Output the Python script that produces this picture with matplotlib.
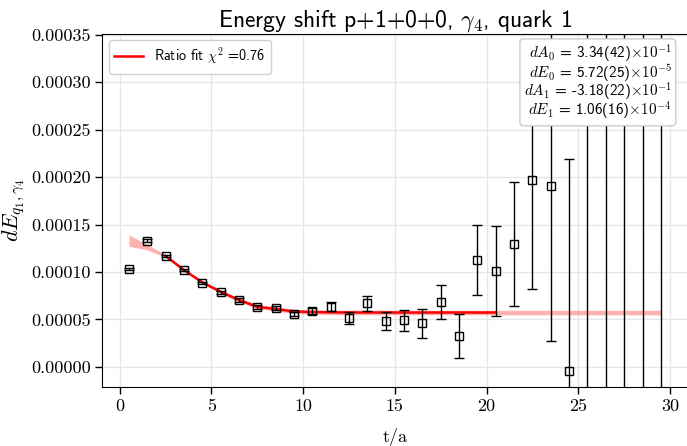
import numpy as np
import matplotlib
matplotlib.use("Agg")
import matplotlib.pyplot as plt

# ---- data ----
t = [0.5, 1.5, 2.5, 3.5, 4.5, 5.5, 6.5, 7.5, 8.5, 9.5,
     10.5, 11.5, 12.5, 13.5, 14.5, 15.5, 16.5, 17.5, 18.5, 19.5,
     20.5, 21.5, 22.5, 23.5, 24.5, 25.5, 26.5, 27.5, 28.5, 29.5]
dE = [1.031e-4, 1.327e-4, 1.168e-4, 1.020e-4, 0.883e-4, 0.788e-4, 0.704e-4, 0.630e-4, 0.619e-4, 0.556e-4,
      0.588e-4, 0.633e-4, 0.517e-4, 0.669e-4, 0.482e-4, 0.490e-4, 0.458e-4, 0.680e-4, 0.324e-4, 1.126e-4,
      1.010e-4, 1.298e-4, 1.970e-4, 1.907e-4, -0.045e-4, 4.2e-4, -1.5e-4, 6.0e-4, -3.0e-4, 5.0e-4]
dE_err = [1.2e-6, 1.5e-6, 1.2e-6, 1.2e-6, 1.4e-6, 1.6e-6, 1.8e-6, 2.0e-6, 2.2e-6, 2.5e-6,
          3.2e-6, 5.0e-6, 6.1e-6, 8.1e-6, 9.8e-6, 11.1e-6, 15.1e-6, 17.9e-6, 23.0e-6, 36.4e-6,
          47.2e-6, 65.4e-6, 115e-6, 164e-6, 224e-6, 6.0e-4, 6.0e-4, 9.0e-4, 8.0e-4, 1.0e-3]

fit_t = [0.5, 1.5, 2.5, 3.5, 4.5, 5.5, 6.5, 7.5, 8.5, 9.5, 10.5, 11.5, 12.5, 20.5, 29.5]
fit_c = [13.3e-5, 12.6e-5, 11.68e-5, 10.2e-5, 8.9e-5, 7.91e-5, 7.04e-5, 6.33e-5, 6.09e-5, 5.83e-5,
         5.77e-5, 5.74e-5, 5.72e-5, 5.72e-5, 5.72e-5]
fit_e = [0.60e-5, 0.28e-5, 0.16e-5, 0.14e-5, 0.15e-5, 0.17e-5, 0.19e-5, 0.21e-5, 0.22e-5, 0.23e-5,
         0.24e-5, 0.24e-5, 0.24e-5, 0.24e-5, 0.24e-5]
fit_range = (2.5, 20.5)

yticks = [0.0, 0.00005, 0.00010, 0.00015, 0.00020, 0.00025, 0.00030, 0.00035]
ytick_labels = ["0.00000", "0.00005", "0.00010", "0.00015", "0.00020", "0.00025", "0.00030", "0.00035"]
xticks = [0, 5, 10, 15, 20, 25, 30]

title = r"Energy shift p+1+0+0, $\gamma_4$, quark 1"
legend_label = r"Ratio fit $\chi^2$ =0.76"
params = [r"$dA_0$ = 3.34(42)$\times10^{-1}$",
          r"$dE_0$ = 5.72(25)$\times10^{-5}$",
          r"$dA_1$ = -3.18(22)$\times10^{-1}$",
          r"$dE_1$ = 1.06(16)$\times10^{-4}$"]

# ---- style ----
plt.rcParams['font.family'] = ['cmss10', 'DejaVu Sans']
plt.rcParams['mathtext.fontset'] = 'cm'
plt.rcParams['axes.unicode_minus'] = False

fig = plt.figure(figsize=(6.87, 4.46), dpi=100)
ax = fig.add_axes([0.149, 0.133, 0.853, 0.791])

ax.grid(True, color='#e6e6e6', lw=1.0, zorder=0)
ax.set_axisbelow(True)

ft = np.array(fit_t); fc = np.array(fit_c); fe = np.array(fit_e)
ax.fill_between(ft, fc - fe, fc + fe, color='red', alpha=0.3, lw=0, zorder=2)
m = (ft >= fit_range[0]) & (ft <= fit_range[1])
ax.plot(ft[m], fc[m], color='red', lw=1.8, zorder=3, label=legend_label)

ax.errorbar(t, dE, yerr=dE_err, fmt='s', mfc='none', mec='black', mew=1.0,
            ms=6, ecolor='black', elinewidth=1.0, capsize=3.5, capthick=1.0, zorder=4)

ax.set_xlim(-0.95, 31.0)
ax.set_ylim(-2.1e-5, 3.51e-4)
ax.set_yticks(yticks)
ax.set_yticklabels(ytick_labels, fontfamily='cmr10', fontsize=13)
ax.set_xticks(xticks)
ax.set_xticklabels([str(x) for x in xticks], fontfamily='cmr10', fontsize=13)
ax.tick_params(direction='out', length=5, width=1)

ax.set_xlabel("t/a", fontfamily='cmr10', fontsize=13, labelpad=10)
ax.set_ylabel(r"$dE_{q_1,\gamma_4}$", fontsize=16, labelpad=3)
ax.set_title(title, fontsize=17, pad=3)

leg = ax.legend(loc='upper left', fontsize=10.2, frameon=True, fancybox=True,
                edgecolor='#cccccc', framealpha=0.9, handlelength=2.0,
                borderaxespad=0.45)

ax.text(0.972, 0.975, "\n".join(params), transform=ax.transAxes, ha='right', va='top',
        fontsize=10.9, multialignment='right', linespacing=0.82, zorder=10,
        bbox=dict(boxstyle='round,pad=0.25', facecolor='white', edgecolor='#cccccc', alpha=1.0))

fig.savefig("out.png", dpi=100)
